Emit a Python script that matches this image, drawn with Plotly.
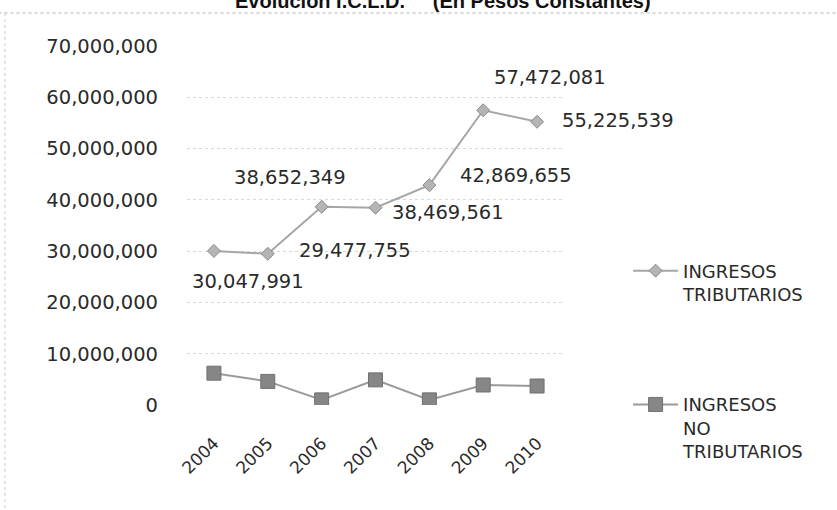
import plotly.graph_objects as go

# Annual revenue series, constant pesos
years = ["2004", "2005", "2006", "2007", "2008", "2009", "2010"]
ingresos_tributarios = [30047991, 29477755, 38652349, 38469561, 42869655, 57472081, 55225539]
ingresos_no_tributarios = [6200000, 4600000, 1000000, 4900000, 1000000, 3900000, 3700000]
y_ticks = [0, 10000000, 20000000, 30000000, 40000000, 50000000, 60000000, 70000000]

# Pixel offsets of the value labels relative to their points (dx, dy up)
label_offsets = [(34, -31), (87, 3), (-32, 29), (72, -5), (87, 10), (67, 33), (81, 1)]

FONT = "DejaVu Sans"
TXT = "#2a2a2a"

fig = go.Figure()

fig.add_trace(go.Scatter(
    x=years, y=ingresos_tributarios, mode="lines+markers",
    name="INGRESOS<br>TRIBUTARIOS", legendgroup="a",
    line=dict(color="#a6a6a6", width=2),
    marker=dict(symbol="diamond", size=10, color="#b4b4b4",
                line=dict(color="#8a8a8a", width=1)),
))
fig.add_trace(go.Scatter(
    x=years, y=ingresos_no_tributarios, mode="lines+markers",
    name="INGRESOS<br>NO<br>TRIBUTARIOS", legendgroup="b",
    line=dict(color="#9a9a9a", width=2),
    marker=dict(symbol="square", size=14, color="#868686",
                line=dict(color="#707070", width=1)),
))

# Value labels on the tributarios series (category index used for x)
for i, (v, (dx, dy)) in enumerate(zip(ingresos_tributarios, label_offsets)):
    fig.add_annotation(x=i, y=v, xref="x", yref="y", text=f"{v:,}",
                       showarrow=False, xshift=dx, yshift=dy,
                       font=dict(family=FONT, size=19.5, color=TXT))

# Title, partly above the top edge
fig.add_annotation(xref="paper", yref="paper", x=0.679, y=1.089,
                   xanchor="center", yanchor="bottom", showarrow=False,
                   text="<b>Evolución I.C.L.D.&nbsp;&nbsp;&nbsp;&nbsp;&nbsp;(En Pesos Constantes)</b>",
                   font=dict(family="Liberation Sans", size=20, color="#111111"))

# Dotted frame lines
fig.add_shape(type="line", xref="paper", yref="paper",
              x0=-0.5, x1=1.75, y0=1.092, y1=1.092,
              line=dict(color="#b0b0b0", width=1, dash="dot"))
fig.add_shape(type="line", xref="paper", yref="paper",
              x0=-0.483, x1=-0.483, y0=1.092, y1=-0.3,
              line=dict(color="#c8c8c8", width=1, dash="dot"))

fig.update_layout(
    width=837, height=510,
    margin=dict(l=187, r=273, t=46, b=105),
    paper_bgcolor="white", plot_bgcolor="white",
    showlegend=True,
    legend=dict(x=1.17, y=0.425, xanchor="left", yanchor="top",
                valign="top", tracegroupgap=84, itemwidth=45,
                font=dict(family=FONT, size=18, color=TXT),
                bgcolor="rgba(0,0,0,0)"),
    xaxis=dict(type="category", range=[-0.5, 6.5], showgrid=False,
               showline=False, zeroline=False, ticks="",
               tickangle=-45, ticklabelstandoff=24,
               tickfont=dict(family=FONT, size=17, color=TXT)),
    yaxis=dict(range=[0, 70000000], tickvals=y_ticks,
               ticktext=[f"{t:,}" for t in y_ticks],
               showgrid=True, gridcolor="#d9d9d9", griddash="dot", gridwidth=1,
               zeroline=False, showline=False, ticks="",
               ticklabelstandoff=28,
               tickfont=dict(family=FONT, size=19.5, color=TXT)),
)

fig.write_html("out.html")
